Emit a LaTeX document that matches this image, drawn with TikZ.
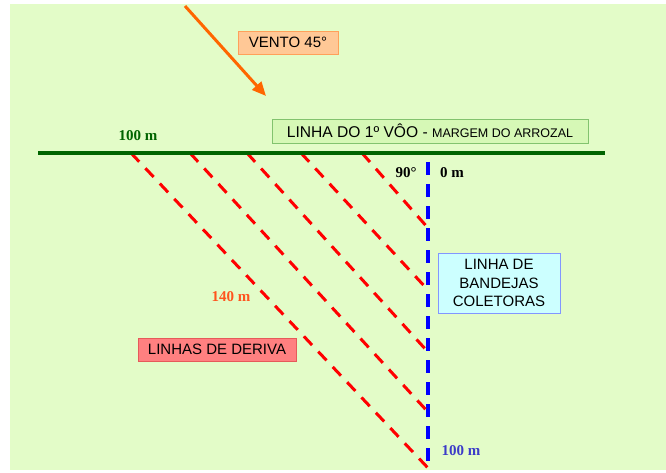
\documentclass[tikz,border=0pt]{standalone}
\usepackage{fontspec}
\setmainfont{Liberation Sans}
\newfontfamily\labelfont{Liberation Serif}
\usetikzlibrary{arrows.meta, positioning}
\definecolor{fundo}{RGB}{227,252,200}
\definecolor{verdeescuro}{RGB}{0,100,0}
\definecolor{laranja}{RGB}{255,102,0}
\definecolor{vermelho}{RGB}{255,0,0}
\definecolor{azul}{RGB}{0,0,255}
\tikzstyle{caixa} = [rectangle, draw, line width = 0.8pt, inner sep = 0,
  text centered, font = \fontsize{15}{18.7}\selectfont]
\tikzstyle{rotulo} = [inner sep = 0, anchor = base,
  font = \labelfont\bfseries\fontsize{15}{18}\selectfont]
\tikzstyle{deriva} = [draw = vermelho, line width = 3pt,
  dash pattern = on 12pt off 9pt]
\tikzstyle{bandeja} = [draw = azul, line width = 4pt,
  dash pattern = on 13pt off 9pt]

\begin{document}
\begin{tikzpicture}[x = 1pt, y = -1pt]
      \useasboundingbox (0, 0) rectangle (666, 473);
      \fill [fundo] (10, 4) rectangle (666, 470);
      % caixas
      \node [caixa, fill = {rgb,255:red,255;green,200;blue,150},
        draw = {rgb,255:red,255;green,160;blue,90},
        minimum width = 100, minimum height = 23] (box-vento) at (288, 42.5)
        {VENTO 45°};
      \node [caixa, fill = {rgb,255:red,214;green,248;blue,182},
        draw = {rgb,255:red,130;green,195;blue,110},
        minimum width = 316, minimum height = 24] (box-voo) at (430, 131)
        {\fontsize{15.6}{18}\selectfont LINHA DO 1º VÔO - {\fontsize{12.5}{14}\selectfont MARGEM DO ARROZAL}};
      \node [caixa, fill = {rgb,255:red,204;green,255;blue,255},
        draw = {rgb,255:red,130;green,150;blue,255}, align = center,
        minimum width = 122, minimum height = 60] (box-bandejas) at (499, 283)
        {LINHA DE\\BANDEJAS\\COLETORAS};
      \node [caixa, fill = {rgb,255:red,255;green,128;blue,128},
        draw = {rgb,255:red,230;green,90;blue,90},
        minimum width = 158, minimum height = 23] (box-deriva) at (217, 349.5)
        {LINHAS DE DERIVA};
      % rotulos
      \node [rotulo, text = verdeescuro] (lbl-100-margem) at (138, 141) {100 m};
      \node [rotulo, text = black] (lbl-90) at (406, 178) {90°};
      \node [rotulo, text = black] (lbl-0) at (452, 178) {0 m};
      \node [rotulo, text = {rgb,255:red,255;green,85;blue,30}] (lbl-140) at (231, 301) {140 m};
      \node [rotulo, text = {rgb,255:red,60;green,60;blue,200}] (lbl-100-bandeja) at (461, 455) {100 m};
      % pontos
      \coordinate (margem-esq) at (38, 153);
      \coordinate (margem-dir) at (605, 153);
      \coordinate (vento-ini) at (185, 6);
      \coordinate (vento-fim) at (266, 96);
      \coordinate (bandeja-topo) at (428, 162);
      \coordinate (bandeja-base) at (428, 464);
      \coordinate (deriva-a-ini) at (131, 153);
      \coordinate (deriva-a-fim) at (428, 468);
      \coordinate (deriva-b-ini) at (190, 153);
      \coordinate (deriva-b-fim) at (428, 412);
      \coordinate (deriva-c-ini) at (247, 153);
      \coordinate (deriva-c-fim) at (428, 352);
      \coordinate (deriva-d-ini) at (301, 153);
      \coordinate (deriva-d-fim) at (428, 290);
      \coordinate (deriva-e-ini) at (362, 153);
      \coordinate (deriva-e-fim) at (428, 228);
      % linhas
      \draw [bandeja] (bandeja-topo) -- (bandeja-base);
      \draw [deriva] (deriva-a-ini) -- (deriva-a-fim);
      \draw [deriva] (deriva-b-ini) -- (deriva-b-fim);
      \draw [deriva] (deriva-c-ini) -- (deriva-c-fim);
      \draw [deriva] (deriva-d-ini) -- (deriva-d-fim);
      \draw [deriva] (deriva-e-ini) -- (deriva-e-fim);
      \draw [draw = verdeescuro, line width = 4pt] (margem-esq) -- (margem-dir);
      \draw [draw = laranja, line width = 3pt,
        -{Triangle[length = 14pt, width = 12pt]}] (vento-ini) -- (vento-fim);
    \end{tikzpicture}
\end{document}
